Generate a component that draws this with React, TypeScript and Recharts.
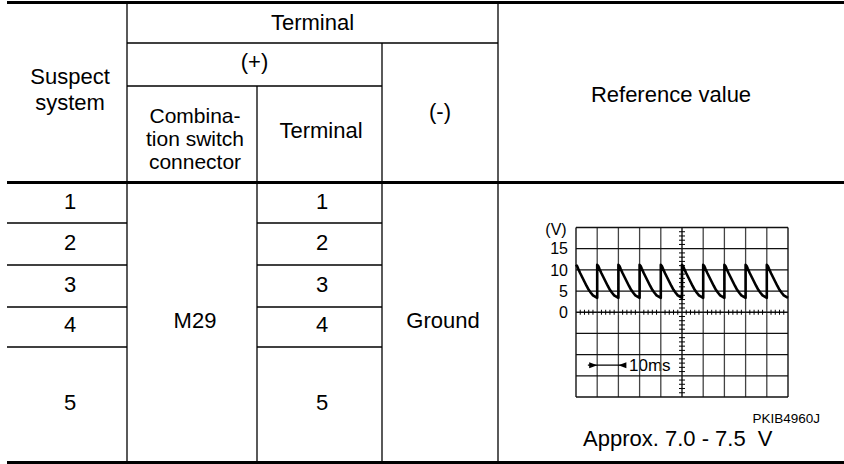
import React from 'react';
import { ComposedChart, Line, Scatter, XAxis, YAxis, ReferenceLine, ReferenceDot } from 'recharts';

// ---- table content ----
const suspectSystems = ['1', '2', '3', '4', '5'];
const terminals = ['1', '2', '3', '4', '5'];
const connectorName = 'M29';
const groundName = 'Ground';
const referenceText = 'Approx. 7.0 - 7.5  V';
const figureCode = 'PKIB4960J';

// ---- oscilloscope trace (time in ms, voltage in V) ----
const gridX = [0, 10, 20, 30, 40, 50, 60, 70, 80, 90, 100];
const gridY = [-20, -15, -10, -5, 0, 5, 10, 15, 20];
const yTicks = [0, 5, 10, 15];
const pulseStarts = [0, 10, 20, 30, 40, 50, 60, 70, 80, 90];
const decayOffsets = [0, 0.5, 1, 2, 3, 4, 5, 6, 7, 8, 9, 10];
const decayVolts = [11.2, 10.9, 10.3, 9.2, 8.2, 7.2, 6.2, 5.3, 4.6, 4.0, 3.7, 3.4];
const minorX = [2, 4, 6, 8, 12, 14, 16, 18, 22, 24, 26, 28, 32, 34, 36, 38, 42, 44, 46, 48,
  52, 54, 56, 58, 62, 64, 66, 68, 72, 74, 76, 78, 82, 84, 86, 88, 92, 94, 96, 98];
const minorY = [-19, -18, -17, -16, -14, -13, -12, -11, -9, -8, -7, -6, -4, -3, -2, -1,
  1, 2, 3, 4, 6, 7, 8, 9, 11, 12, 13, 14, 16, 17, 18, 19];
const scaleArrowFrom = 10;
const scaleArrowTo = 20;
const scaleArrowLevel = -12.5;

const waveData: { t: number; v: number }[] = [];
pulseStarts.forEach((s) => {
  decayOffsets.forEach((o, i) => waveData.push({ t: s + o, v: decayVolts[i] }));
});
const minorXData = minorX.map((t) => ({ t, v: 0 }));
const minorYData = minorY.map((v) => ({ t: 50, v }));

const FONT = "'Liberation Sans', Arial, Helvetica, sans-serif";

const VTick = (p: any) => (
  <line x1={p.cx} x2={p.cx} y1={p.cy - 2.5} y2={p.cy + 2.5} stroke="#000" strokeWidth={1} />
);
const HTick = (p: any) => (
  <line x1={p.cx - 3} x2={p.cx + 3} y1={p.cy} y2={p.cy} stroke="#000" strokeWidth={1} />
);
const ArrowRight = (p: any) => (
  <path d={`M${p.cx},${p.cy} L${p.cx - 8},${p.cy - 3} L${p.cx - 8},${p.cy + 3} Z`} fill="#000" />
);
const ArrowLeft = (p: any) => (
  <path d={`M${p.cx},${p.cy} L${p.cx + 8},${p.cy - 3} L${p.cx + 8},${p.cy + 3} Z`} fill="#000" />
);

function Scope() {
  return (
    <ComposedChart
      width={260}
      height={195}
      data={waveData}
      margin={{ top: 12.5, right: 12, bottom: 13, left: 6 }}
    >
      <XAxis dataKey="t" type="number" domain={[0, 100]} hide />
      <YAxis
        type="number"
        domain={[-20, 20]}
        ticks={yTicks}
        width={30}
        axisLine={false}
        tickLine={false}
        tick={{ fill: '#000', fontSize: 16, fontFamily: FONT }}
        interval={0}
      />
      {gridX.map((x) => (
        <ReferenceLine
          key={'gx' + x}
          x={x}
          stroke={x === 0 || x === 50 || x === 100 ? '#000' : '#444'}
          strokeWidth={1.3}
        />
      ))}
      {gridY.map((y) => (
        <ReferenceLine key={'gy' + y} y={y} stroke="#111" strokeWidth={1.3} />
      ))}
      <Scatter data={minorXData} dataKey="v" shape={VTick} isAnimationActive={false} />
      <Scatter data={minorYData} dataKey="v" shape={HTick} isAnimationActive={false} />
      <ReferenceLine
        segment={[
          { x: 5.6, y: scaleArrowLevel },
          { x: 23.2, y: scaleArrowLevel },
        ]}
        stroke="#000"
        strokeWidth={1.3}
      />
      <ReferenceDot x={scaleArrowFrom} y={scaleArrowLevel} shape={ArrowRight} />
      <ReferenceDot x={scaleArrowTo} y={scaleArrowLevel} shape={ArrowLeft} />
      <Line
        type="linear"
        dataKey="v"
        stroke="#000"
        strokeWidth={2.6}
        dot={false}
        isAnimationActive={false}
        strokeLinejoin="round"
      />
    </ComposedChart>
  );
}

export default function App() {
  const rowBase = [208.5, 250, 291.5, 331.5, 410];
  const thin = { stroke: '#000', strokeWidth: 1.3 };
  const thick = { stroke: '#000', strokeWidth: 3 };
  const t = { fontFamily: FONT, fontSize: 22, fill: '#000', textAnchor: 'middle' as const };
  const tSmall = { ...t, fontSize: 21 };
  return (
    <div style={{ position: 'fixed', left: 0, top: 0, width: 844, height: 464, background: '#fff', overflow: 'hidden' }}>
      <svg width={844} height={464} style={{ position: 'absolute', left: 0, top: 0 }}>
        {/* thick rules */}
        <line x1={7} x2={844} y1={2.5} y2={2.5} {...thick} />
        <line x1={7} x2={844} y1={182.5} y2={182.5} {...thick} />
        <line x1={7} x2={844} y1={462.5} y2={462.5} {...thick} />
        {/* verticals */}
        <line x1={127} x2={127} y1={4} y2={461} {...thin} />
        <line x1={257} x2={257} y1={86} y2={461} {...thin} />
        <line x1={382} x2={382} y1={43} y2={461} {...thin} />
        <line x1={498} x2={498} y1={4} y2={461} {...thin} />
        {/* header horizontals */}
        <line x1={127} x2={498} y1={43} y2={43} {...thin} />
        <line x1={127} x2={382} y1={86} y2={86} {...thin} />
        {/* body row lines */}
        {[223, 265, 307, 347].map((y) => (
          <g key={y}>
            <line x1={7} x2={127} y1={y} y2={y} {...thin} />
            <line x1={257} x2={382} y1={y} y2={y} {...thin} />
          </g>
        ))}
        {/* header text */}
        <text x={312.5} y={29.5} {...t}>Terminal</text>
        <text x={254.5} y={68.5} {...t}>(+)</text>
        <text x={440} y={119} {...t}>(-)</text>
        <text x={70} y={84} {...t}>Suspect</text>
        <text x={70} y={110} {...t}>system</text>
        <text x={195} y={123} {...tSmall}>Combina-</text>
        <text x={195} y={146} {...tSmall}>tion switch</text>
        <text x={195} y={169} {...tSmall}>connector</text>
        <text x={321} y={138} {...t}>Terminal</text>
        <text x={671} y={102} {...t}>Reference value</text>
        {/* body text */}
        {suspectSystems.map((s, i) => (
          <text key={'s' + i} x={70} y={rowBase[i]} {...t}>{s}</text>
        ))}
        {terminals.map((s, i) => (
          <text key={'tm' + i} x={322} y={rowBase[i]} {...t}>{s}</text>
        ))}
        <text x={195} y={327.5} {...t}>{connectorName}</text>
        <text x={443} y={327.5} {...t}>{groundName}</text>
        {/* scope annotations */}
        <text x={556} y={235} fontFamily={FONT} fontSize={16} textAnchor="middle">(V)</text>
        <text x={629} y={371} fontFamily={FONT} fontSize={17}>10ms</text>
        <text x={820} y={423} fontFamily={FONT} fontSize={13.5} textAnchor="end">{figureCode}</text>
        <text x={583} y={446} fontFamily={FONT} fontSize={22} style={{ whiteSpace: 'pre' }}>{referenceText}</text>
      </svg>
      <div style={{ position: 'absolute', left: 540, top: 215 }}>
        <Scope />
      </div>
    </div>
  );
}
